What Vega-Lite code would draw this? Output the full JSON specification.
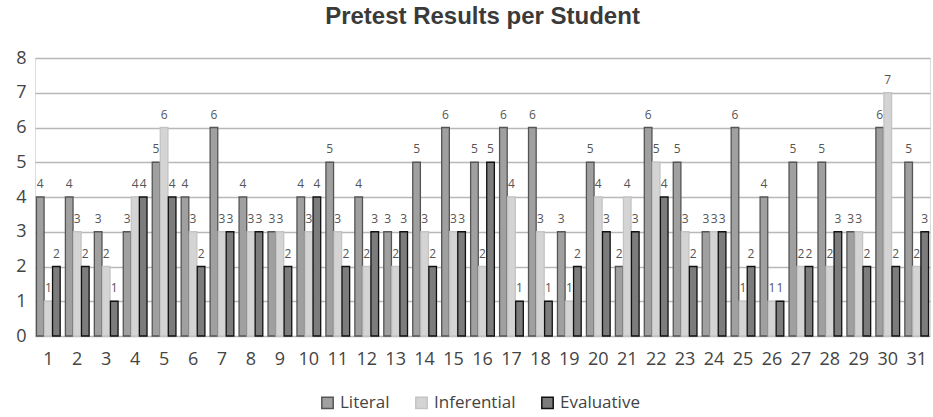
{
  "$schema": "https://vega.github.io/schema/vega-lite/v6.json",
  "width": 895,
  "height": 278,
  "autosize": {"type": "none"},
  "padding": {"left": 35, "top": 58, "right": 3, "bottom": 81},
  "background": "white",
  "title": {"text": "Pretest Results per Student", "fontSize": 24, "font": "Liberation Sans", "fontWeight": "bold", "color": "#3a3a3a", "offset": 20, "anchor": "middle"},
  "data": {"values": [
    {"s":1,"t":"Literal","v":4},{"s":1,"t":"Inferential","v":1},{"s":1,"t":"Evaluative","v":2},
    {"s":2,"t":"Literal","v":4},{"s":2,"t":"Inferential","v":3},{"s":2,"t":"Evaluative","v":2},
    {"s":3,"t":"Literal","v":3},{"s":3,"t":"Inferential","v":2},{"s":3,"t":"Evaluative","v":1},
    {"s":4,"t":"Literal","v":3},{"s":4,"t":"Inferential","v":4},{"s":4,"t":"Evaluative","v":4},
    {"s":5,"t":"Literal","v":5},{"s":5,"t":"Inferential","v":6},{"s":5,"t":"Evaluative","v":4},
    {"s":6,"t":"Literal","v":4},{"s":6,"t":"Inferential","v":3},{"s":6,"t":"Evaluative","v":2},
    {"s":7,"t":"Literal","v":6},{"s":7,"t":"Inferential","v":3},{"s":7,"t":"Evaluative","v":3},
    {"s":8,"t":"Literal","v":4},{"s":8,"t":"Inferential","v":3},{"s":8,"t":"Evaluative","v":3},
    {"s":9,"t":"Literal","v":3},{"s":9,"t":"Inferential","v":3},{"s":9,"t":"Evaluative","v":2},
    {"s":10,"t":"Literal","v":4},{"s":10,"t":"Inferential","v":3},{"s":10,"t":"Evaluative","v":4},
    {"s":11,"t":"Literal","v":5},{"s":11,"t":"Inferential","v":3},{"s":11,"t":"Evaluative","v":2},
    {"s":12,"t":"Literal","v":4},{"s":12,"t":"Inferential","v":2},{"s":12,"t":"Evaluative","v":3},
    {"s":13,"t":"Literal","v":3},{"s":13,"t":"Inferential","v":2},{"s":13,"t":"Evaluative","v":3},
    {"s":14,"t":"Literal","v":5},{"s":14,"t":"Inferential","v":3},{"s":14,"t":"Evaluative","v":2},
    {"s":15,"t":"Literal","v":6},{"s":15,"t":"Inferential","v":3},{"s":15,"t":"Evaluative","v":3},
    {"s":16,"t":"Literal","v":5},{"s":16,"t":"Inferential","v":2},{"s":16,"t":"Evaluative","v":5},
    {"s":17,"t":"Literal","v":6},{"s":17,"t":"Inferential","v":4},{"s":17,"t":"Evaluative","v":1},
    {"s":18,"t":"Literal","v":6},{"s":18,"t":"Inferential","v":3},{"s":18,"t":"Evaluative","v":1},
    {"s":19,"t":"Literal","v":3},{"s":19,"t":"Inferential","v":1},{"s":19,"t":"Evaluative","v":2},
    {"s":20,"t":"Literal","v":5},{"s":20,"t":"Inferential","v":4},{"s":20,"t":"Evaluative","v":3},
    {"s":21,"t":"Literal","v":2},{"s":21,"t":"Inferential","v":4},{"s":21,"t":"Evaluative","v":3},
    {"s":22,"t":"Literal","v":6},{"s":22,"t":"Inferential","v":5},{"s":22,"t":"Evaluative","v":4},
    {"s":23,"t":"Literal","v":5},{"s":23,"t":"Inferential","v":3},{"s":23,"t":"Evaluative","v":2},
    {"s":24,"t":"Literal","v":3},{"s":24,"t":"Inferential","v":3},{"s":24,"t":"Evaluative","v":3},
    {"s":25,"t":"Literal","v":6},{"s":25,"t":"Inferential","v":1},{"s":25,"t":"Evaluative","v":2},
    {"s":26,"t":"Literal","v":4},{"s":26,"t":"Inferential","v":1},{"s":26,"t":"Evaluative","v":1},
    {"s":27,"t":"Literal","v":5},{"s":27,"t":"Inferential","v":2},{"s":27,"t":"Evaluative","v":2},
    {"s":28,"t":"Literal","v":5},{"s":28,"t":"Inferential","v":2},{"s":28,"t":"Evaluative","v":3},
    {"s":29,"t":"Literal","v":3},{"s":29,"t":"Inferential","v":3},{"s":29,"t":"Evaluative","v":2},
    {"s":30,"t":"Literal","v":6},{"s":30,"t":"Inferential","v":7},{"s":30,"t":"Evaluative","v":2},
    {"s":31,"t":"Literal","v":5},{"s":31,"t":"Inferential","v":2},{"s":31,"t":"Evaluative","v":3}
  ]},
  "encoding": {
    "x": {"field": "s", "type": "ordinal", "title": null, "scale": {"paddingInner": 0.18, "paddingOuter": 0.05},
      "axis": {"labelAngle": 0, "labelFontSize": 18, "labelColor": "#444444", "labelFont": "Open Sans", "labelPadding": 14, "domain": false, "ticks": false, "grid": false}},
    "xOffset": {"field": "t", "type": "nominal", "sort": ["Literal", "Inferential", "Evaluative"], "scale": {"paddingInner": 0.05}},
    "y": {"field": "v", "type": "quantitative", "title": null, "scale": {"domain": [0, 8]},
      "axis": {"tickCount": 8, "labelFontSize": 18, "labelColor": "#444444", "labelFont": "Open Sans", "labelPadding": 14, "labelAlign": "center", "domain": false, "ticks": false, "grid": true, "gridColor": "#b8b8b8", "gridWidth": 1.5}}
  },
  "layer": [
    {
      "mark": {"type": "bar", "strokeWidth": 1.3},
      "encoding": {
        "fill": {"field": "t", "type": "nominal", "sort": ["Literal", "Inferential", "Evaluative"], "title": null,
          "scale": {"domain": ["Literal", "Inferential", "Evaluative"], "range": ["#a0a0a0", "#d4d4d4", "#7c7c7c"]},
          "legend": {"orient": "none", "legendX": 284, "legendY": 336, "direction": "horizontal", "symbolType": "square", "symbolSize": 130, "labelFontSize": 17, "labelFont": "Open Sans", "labelColor": "#444444", "columnPadding": 22, "labelOffset": 4, "symbolStrokeWidth": 1.5}},
        "stroke": {"field": "t", "type": "nominal", "sort": ["Literal", "Inferential", "Evaluative"], "title": null,
          "scale": {"domain": ["Literal", "Inferential", "Evaluative"], "range": ["#555555", "#c4c4c4", "#111111"]}}
      }
    },
    {
      "mark": {"type": "text", "baseline": "bottom", "dy": -6, "fontSize": 12, "font": "Open Sans", "fill": "#555555"},
      "encoding": {"text": {"field": "v", "type": "quantitative"}}
    }
  ]
}
